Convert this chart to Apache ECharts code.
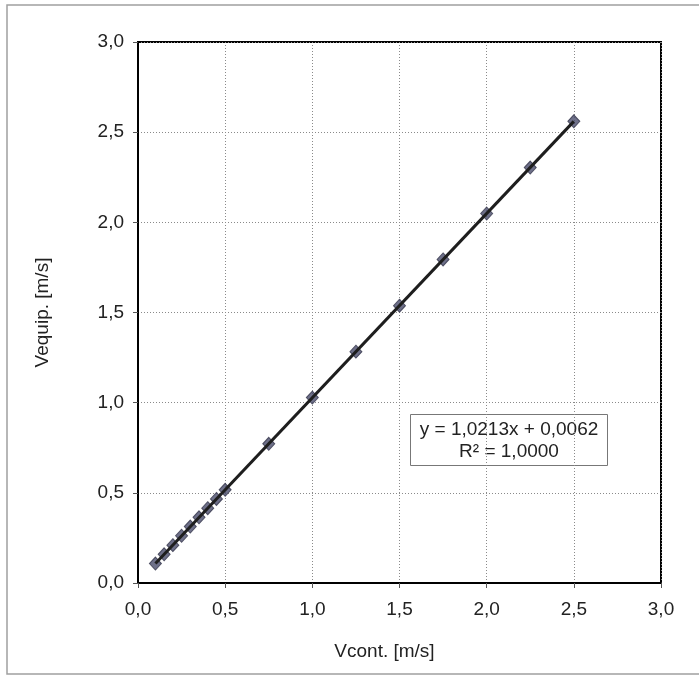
<!DOCTYPE html>
<html>
<head>
<meta charset="utf-8">
<title>Vequip vs Vcont</title>
<script src="https://cdn.jsdelivr.net/npm/echarts@6/dist/echarts.min.js"></script>
<style>
    html, body { margin: 0; padding: 0; background: #fff; }
    #scatter_fit { width: 699px; height: 679px; }
</style>
</head>
<body>
<div id="scatter_fit"></div>
<script>

// Chart data
// ------------------------------

var vCont = [0.10, 0.15, 0.20, 0.25, 0.30, 0.35, 0.40, 0.45, 0.50, 0.75, 1.00, 1.25, 1.50, 1.75, 2.00, 2.25, 2.50];
var vEquip = [0.108, 0.159, 0.210, 0.262, 0.313, 0.364, 0.415, 0.466, 0.517, 0.772, 1.028, 1.283, 1.538, 1.794, 2.049, 2.304, 2.560];

// Trend line end points (Excel linear fit over data range)
var trendX = [0.10, 2.50];
var trendY = [0.108, 2.560];

var axisTicks = [0, 0.5, 1, 1.5, 2, 2.5, 3];
var fitLabel = ['y = 1,0213x + 0,0062', 'R² = 1,0000'];


// Setup module
// ------------------------------

var EchartsScatterFit = function() {

    var _scatterFitExample = function() {
        if (typeof echarts == 'undefined') {
            console.warn('Warning - echarts.min.js is not loaded.');
            return;
        }

        var element = document.getElementById('scatter_fit');
        if (!element) return;

        var chart = echarts.init(element, null, { renderer: 'canvas' });

        // Decimal comma labels
        var commaLabel = function(v) {
            return v.toFixed(1).replace('.', ',');
        };

        var pointData = vCont.map(function(x, i) { return [x, vEquip[i]]; });
        var trendData = trendX.map(function(x, i) { return [x, trendY[i]]; });

        var axisCommon = {
            type: 'value',
            min: axisTicks[0],
            max: axisTicks[axisTicks.length - 1],
            interval: 0.5,
            axisLine: {
                show: true,
                lineStyle: { color: '#000', width: 2 }
            },
            axisTick: {
                show: true,
                length: 5,
                lineStyle: { color: '#555', width: 1 }
            },
            axisLabel: {
                color: '#222',
                fontSize: 19,
                fontFamily: 'Liberation Sans',
                formatter: commaLabel
            },
            splitLine: {
                show: true,
                lineStyle: { color: '#8a8a8a', type: [1, 2], width: 1 }
            },
            nameLocation: 'middle',
            nameTextStyle: {
                color: '#222',
                fontSize: 19,
                fontFamily: 'Liberation Sans'
            }
        };

        chart.setOption({

            animation: false,
            backgroundColor: '#fff',

            // Setup grid
            grid: {
                left: 138,
                right: 38,
                top: 42,
                bottom: 96,
                show: true,
                borderColor: '#000',
                borderWidth: 2
            },

            // Horizontal axis
            xAxis: [Object.assign({}, axisCommon, {
                name: 'Vcont. [m/s]',
                nameGap: 59,
                axisLabel: Object.assign({}, axisCommon.axisLabel, { margin: 17 }),
                nameTextStyle: Object.assign({}, axisCommon.nameTextStyle, { padding: [0, 30, 0, 0] })
            })],

            // Vertical axis
            yAxis: [Object.assign({}, axisCommon, {
                name: 'Vequip. [m/s]',
                nameGap: 86,
                axisLabel: Object.assign({}, axisCommon.axisLabel, { margin: 14 })
            })],

            // Frame and fit label
            graphic: [
                {
                    type: 'rect',
                    silent: true,
                    shape: { x: 7, y: 5, width: 720, height: 669 },
                    style: { fill: 'none', stroke: '#a0a0a0', lineWidth: 1.5 }
                },
                {
                    type: 'group',
                    left: 410,
                    top: 414,
                    children: [
                        {
                            type: 'rect',
                            shape: { x: 0, y: 0, width: 197, height: 51 },
                            style: { fill: '#fff', stroke: '#777', lineWidth: 1 }
                        },
                        {
                            type: 'text',
                            x: 98.5,
                            y: 4,
                            style: {
                                text: fitLabel.join('\n'),
                                align: 'center',
                                fill: '#222',
                                fontSize: 19,
                                lineHeight: 22,
                                fontFamily: 'Liberation Sans'
                            }
                        }
                    ]
                }
            ],

            // Add series
            series: [
                {
                    name: 'Trend',
                    type: 'line',
                    data: trendData,
                    symbol: 'none',
                    silent: true,
                    z: 3,
                    lineStyle: { color: '#1e1e1e', width: 3 }
                },
                {
                    name: 'Vequip',
                    type: 'scatter',
                    data: pointData,
                    symbol: 'diamond',
                    symbolSize: [12, 13],
                    z: 2,
                    itemStyle: { color: '#4a4c6c', borderColor: '#33344a', borderWidth: 1 }
                }
            ]
        });
    };

    return {
        init: function() {
            _scatterFitExample();
        }
    };
}();


// Initialize module
// ------------------------------

document.addEventListener('DOMContentLoaded', function() {
    EchartsScatterFit.init();
});
</script>
</body>
</html>
